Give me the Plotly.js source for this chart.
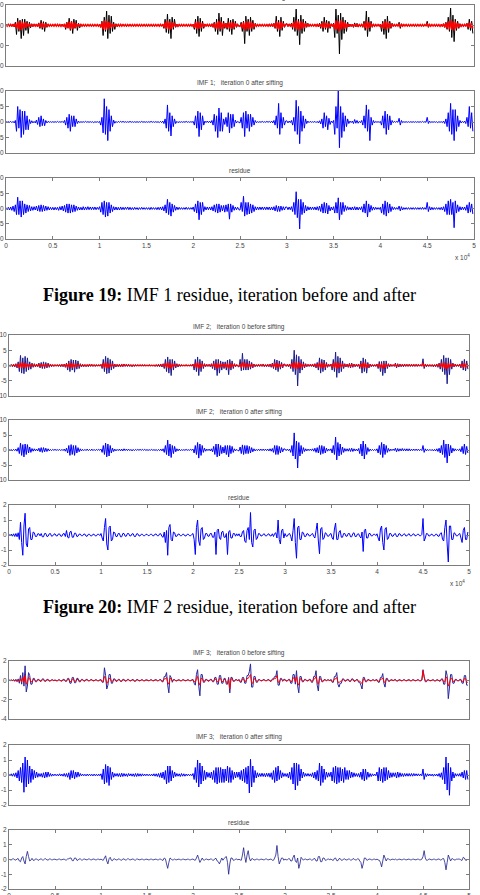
<!DOCTYPE html>
<html>
<head>
<meta charset="utf-8">
<script src="https://cdn.plot.ly/plotly-3.0.1.min.js"></script>
<style>
  html, body { margin: 0; padding: 0; background: #fff; }
  #chart { width: 480px; height: 895px; }
</style>
</head>
<body>
<div id="chart"></div>
<script>
// Sample spacing of every IMF trace (400 samples, 0 .. 49875)
const SAMPLE_STEP = 125;

// x tick positions and their labels (axis is scaled by 10^4)
const xTickVals = [0, 5000, 10000, 15000, 20000, 25000, 30000, 35000, 40000, 45000, 50000];
const xTickText = ['0', '0.5', '1', '1.5', '2', '2.5', '3', '3.5', '4', '4.5', '5'];

// y tick values per panel family
const yTicks19a = [10, 0, -10, -20];
const yTicks10 = [10, 5, 0, -5, -10];
const yTicks21a = [2, 0, -2, -4];
const yTicks2 = [2, 1, 0, -1, -2];

// ---- Figure 19: IMF 1 (one row = 0.5 x 10^4 samples) ----
const imf1Before = [
  .2,-.2,.3,-.3,.4,-.5,.5,-.8,1.5,-4.5,3.5,-3,2.5,-6.5,3,-5,3,-2.5,2,-4,1.5,-1.2,.8,-.6,.5,-.4,.6,-.8,1.2,-1.5,2.5,-2,1.8,-3,1.5,-1,.6,-.4,.3,-.2,
  .3,-.2,.4,-.3,.3,-.2,.4,-.3,.5,-.4,.6,-2,1.5,-1.2,3.5,-2.5,2,-4,3,-1.5,2.5,-2.5,1,-1.2,.5,-.4,.3,-.2,.2,-.3,.2,-.2,.3,-.2,.2,-.3,.2,-.2,.3,-.2,
  .5,-1,2,-5,4,-3,7,-6.5,5,-4,4.5,-3,1.5,-2,.8,-.6,.5,-.4,.5,-.3,.4,-.3,.4,-.5,.3,-.2,.4,-.3,.2,-.3,.3,-.2,.2,-.3,.3,-.2,.2,-.2,.3,-.2,
  .2,-.2,.3,-.2,.2,-.3,.2,-.2,.3,-.2,.2,-.3,.4,-.3,.6,-1.5,3,-3.5,5.5,-4,3,-6.5,4,-2,3,-1,.6,-.5,.4,-.3,.3,-.2,.2,-.3,.2,-.2,.3,-.2,.3,-.2,
  .5,-2,3,-4,4.5,-5.5,3.5,-3,2,-1.5,.6,-.4,.5,-.4,.5,-.6,.8,-1,1.5,-3,3,-4.5,6,-3,4,-5,2,-1.5,1,-2,3.5,-3,2.5,-4.5,3,-2,2,-1,.4,-.3,
  -.5,1.5,-3,2,-9,4.5,-3,3,-5,4,-3,2.5,-2,1,-.5,.3,-.2,.3,-.2,.3,-.2,.4,-.3,.3,-.4,.5,-.5,.8,-.6,1,-1.5,4.5,-3,2.5,-5.5,4,-2.5,2,-1,.5,
  .8,-.5,.6,-.4,1,-2,4,-3,8,-5,3,-9.5,5,-4,3,-3,2,-1,1,-.5,.4,-.3,.4,-.3,.5,-.4,.5,-.8,1,-1.5,2,-3,4,-2,2.5,-3.5,2,-1.5,.8,-.5,
  1,-6,8,-4,5,-14,6,-7,4,-4,2.5,-3,1.5,-.8,.6,-.5,.6,-1,1.2,-.8,1,-.8,.5,-.4,.5,-1,2,-2.5,7,-5.5,4,-3,2,-1,.6,-.4,.4,-.3,.3,-.2,
  .5,-3,2,-4.5,3,-6.5,4.5,-3.5,2,-1.5,1,-.5,.5,-.3,.4,-.3,1.5,-1.5,.8,-.5,.3,-.2,.3,-.2,.2,-.3,.2,-.2,.3,-.2,.2,-.2,.3,-.2,.2,-.2,.3,-.2,.2,-.2,
  2,-1,.5,-.4,.2,-.3,.2,-.3,.2,-.3,.2,-.4,.3,-.5,.8,-1,1.5,-2,4,-3,8.5,-6,5,-8,3,-2.5,2,-1.5,.8,-.6,.4,-.5,.5,-.4,1,-2,3,-2.5,2,-4
];
const imf1Mean = [
  .4,-.4,.5,-.4,.5,-.5,.6,-.6,.8,-1.5,1.8,-2,2,-2.2,1.8,-1.6,1.5,-1.2,1,-.8,.8,-.6,.5,-.5,.5,-.4,.6,-.7,.9,-1,1.2,-1.1,1,-1,.8,-.6,.5,-.4,.4,-.4,
  .4,-.4,.5,-.4,.5,-.4,.4,-.5,.5,-.6,.8,-1.2,1.2,-1.5,1.8,-2,2,-1.8,1.5,-1.2,1,-.8,.6,-.5,.5,-.4,.4,-.4,.4,-.4,.4,-.4,.4,-.4,.4,-.4,.4,-.4,.4,-.4,
  .5,-1,1.5,-2,2.5,-2.2,2,-2,1.8,-1.5,1,-.8,.6,-.6,.5,-.5,.5,-.4,.5,-.4,.4,-.4,.4,-.4,.4,-.4,.4,-.4,.4,-.4,.4,-.4,.4,-.4,.4,-.4,.4,-.4,.4,-.4,
  .4,-.4,.4,-.4,.4,-.4,.4,-.4,.4,-.4,.4,-.4,.5,-.5,.6,-1,1.5,-1.8,2.2,-2,1.8,-2,1.5,-1,1,-.6,.5,-.5,.4,-.4,.4,-.4,.4,-.4,.4,-.4,.4,-.4,.4,-.4,
  .5,-1.2,1.5,-1.8,2,-1.8,1.5,-1.2,1,-.8,.6,-.5,.5,-.4,.5,-.5,.6,-.8,1,-1.5,1.5,-2,2.2,-1.8,1.8,-1.8,1.2,-1,1,-1.2,1.5,-1.5,1.5,-1.8,1.5,-1.2,1,-.6,.5,-.4,
  -.5,.8,-1.5,1.5,-2.5,2,-1.8,1.8,-2,1.8,-1.5,1.2,-1,.6,-.5,.4,-.4,.4,-.4,.4,-.4,.4,-.4,.4,-.4,.5,-.5,.6,-.6,.8,-1,2,-1.8,1.5,-2.2,1.8,-1.2,1,-.6,.5,
  .6,-.5,.5,-.4,.6,-1,1.5,-1.5,2.5,-2,2,-2.5,2,-1.8,1.5,-1.2,1,-.6,.6,-.4,.4,-.4,.4,-.4,.4,-.4,.5,-.5,.6,-.8,1,-1.2,1.5,-1.2,1.2,-1.5,1,-.8,.6,-.5,
  .6,-2,2.5,-2,2,-3,2.5,-2,2,-1.8,1.5,-1.2,.8,-.6,.5,-.5,.5,-.6,.6,-.5,.5,-.5,.4,-.4,.5,-.6,1,-1.2,2.2,-2,1.5,-1.2,1,-.6,.5,-.4,.4,-.4,.4,-.4,
  .4,-1,1.2,-1.8,1.8,-2,1.8,-1.5,1.2,-1,.8,-.5,.4,-.4,.4,-.4,.8,-.8,.6,-.4,.4,-.4,.4,-.4,.4,-.4,.4,-.4,.4,-.4,.4,-.4,.4,-.4,.4,-.4,.4,-.4,.4,-.4,
  1,-.6,.5,-.4,.4,-.4,.4,-.4,.4,-.4,.4,-.5,.5,-.6,.8,-1,1.2,-1.5,2,-2,2.5,-2.2,2,-2.5,1.8,-1.5,1.2,-1,.6,-.5,.4,-.4,.5,-.5,.8,-1,1.2,-1.2,1.2,-1.5
];
const imf1After = [
  .1,-.1,.1,-.1,.2,-.2,.2,-.3,.5,-3,5,-2,4,-5,3.5,-4,3.5,-2.5,2,-2.5,.8,-.5,.4,-.3,.2,-.3,.6,-.8,1.5,-1.5,2,-1.2,1,-1.2,.5,-.3,.2,-.1,.1,-.1,
  .1,-.1,.1,-.1,.2,-.1,.1,-.1,.2,-.2,.5,-1,1.5,-2,2.5,-3,2,-1.5,2,-1.5,1,-.5,.3,-.2,.1,-.1,.1,-.1,.2,-.1,.1,-.1,.1,-.1,.1,-.2,.1,-.1,.1,-.1,
  .2,-1,1.5,-3.5,7.5,-4,5,-6,4,-3,2,-1.5,.6,-.4,.2,-.2,.2,-.1,.2,-.1,.2,-.1,.1,-.1,.1,-.1,.2,-.1,.1,-.1,.1,-.1,.1,-.1,.1,-.1,.2,-.1,.1,-.1,
  .1,-.1,.1,-.1,.2,-.1,.1,-.1,.1,-.1,.1,-.2,.2,-.2,.3,-.5,1,-2,5.5,-3,3,-4.5,2,-1.5,1,-.5,.2,-.2,.1,-.1,.1,-.1,.1,-.1,.2,-.1,.1,-.1,.1,-.1,
  .2,-1,2,-2,3.5,-4.7,3,-2.5,2,-1,.3,-.2,.3,-.2,.3,-.3,.5,-1,2.5,-3,2,-5,4.5,-3,3,-3,1,-.8,1.5,-1.5,3,-3.5,2.5,-2,2.5,-1.5,.6,-.3,.2,-.1,
  -.3,1.5,-2,3,-4.7,3.5,-2,2.5,-3,2.5,-1.5,1.5,-1,.5,-.2,.1,-.1,.1,-.1,.2,-.1,.1,-.1,.2,-.1,.2,-.2,.3,-.3,.5,-1,2,-2,6,-4,3,-2,1.5,-1,.3,
  .4,-.3,.3,-.2,.5,-1,1.5,-3,7,-4,5,-7,3.5,-3,2,-2,1,-.5,.3,-.2,.2,-.1,.1,-.1,.2,-.2,.2,-.3,.4,-.6,1,-2,3,-1.5,2,-2.5,1.2,-.8,.3,-.2,
  .5,-4,5,-2,10,-8.3,5,-5,3,-3,2,-1.5,1,-.5,.3,-.2,.3,-.5,.8,-.4,.5,-.4,.2,-.2,.5,-1,2,-2,5.5,-3,4,-6,1.5,-1,.5,-.3,.2,-.1,.1,-.1,
  .2,-1,2,-2,3.5,-4,2.5,-2.5,2,-1,.5,-.2,.2,-.1,.2,-.1,1.2,-1,.5,-.2,.1,-.1,.1,-.1,.1,-.1,.1,-.1,.1,-.1,.1,-.1,.1,-.1,.1,-.1,.2,-.1,.1,-.1,
  1.5,-.5,.3,-.2,.1,-.1,.1,-.1,.1,-.2,.1,-.1,.1,-.2,.3,-.5,1,-1.5,3,-3,6,-4,4,-6,4,-3,2,-1.5,.5,-.3,.2,-.2,.3,-.5,1.5,-1.5,5,-2,3,-3
];
const imf1Residue = [
  .3,-.4,.4,-.5,.5,-.6,.8,-1,1.2,-2,3.7,-2,2.5,-2.8,2.5,-2,1.5,-1.5,1.2,-1,1,-.8,.6,-.6,.6,-.5,.8,-.8,1,-1,1.2,-1,1,-.8,.8,-.6,.6,-.5,.4,-.4,
  .4,-.5,.4,-.4,.4,-.6,.6,-.5,.8,-.8,1,-1.2,1.5,-1.5,1.5,-1.5,1.2,-1.2,1.2,-1,.8,-.6,.5,-.5,.4,-.5,.6,-.5,.5,-.4,.6,-.4,.5,-.4,.5,-.4,.5,-.4,.4,-.3,
  .6,-1.2,2,-2,2.5,-2.8,2,-2.5,2,-1.5,1.2,-1,.6,-.5,.5,-.5,.4,-.5,.5,-.4,.4,-.4,.4,-.3,.5,-.4,.4,-.4,.3,-.4,.4,-.3,.3,-.4,.3,-.3,.4,-.3,.3,-.3,
  .3,-.3,.3,-.4,.4,-.3,.3,-.3,.3,-.4,.4,-.4,.5,-.5,.6,-.8,1.2,-1.5,3,-2,2,-2.5,1.5,-1.2,1,-.6,.5,-.4,.4,-.3,.3,-.3,.3,-.3,.4,-.3,.3,-.3,.3,-.3,
  .5,-1,1.5,-1.5,2.5,-3.7,2,-2,2,-1,.6,-.5,.5,-.4,.5,-.5,.6,-.8,1.2,-1.2,1.5,-1.5,1.5,-1.2,1,-.8,1,-1.2,1.2,-1,1.5,-3.5,1.5,-1.2,1,-.6,.5,-.4,.4,-.4,
  -.5,2,-1,4,-2.5,2,-2,2,-1.8,1.5,-1.5,1.2,-1,.6,-.5,.5,-.4,.5,-.4,.5,-.4,.5,-.4,.5,-.4,.5,-.5,.5,-.5,.6,-.8,1,-1,.8,-1,.8,-.6,.6,-.5,.5,
  .5,-.4,.5,-.4,.6,-1,2,-2,5.5,-3,3,-6.7,3,-2,2,-1.5,1,-.8,.6,-.5,.5,-.4,.5,-.4,.5,-.5,.6,-.6,.8,-1,1.5,-1.5,2,-1.5,1.8,-1.8,1,-.8,.5,-.5,
  .6,-1.5,2,-1.5,3.5,-3.7,2,-2,2,-1,1,-.6,.6,-.4,.4,-.5,.5,-.5,.6,-.5,.5,-.5,.4,-.4,.6,-1.2,1.5,-1.5,2.5,-2.8,1.5,-1.2,1,-.6,.5,-.4,.4,-.3,.3,-.3,
  .4,-1.5,1.5,-2,2.5,-2.5,2,-1.5,1.5,-1,.6,-.4,.4,-.3,.3,-.3,.8,-.8,.6,-.5,.3,-.3,.3,-.3,.3,-.3,.3,-.3,.3,-.3,.3,-.3,.3,-.3,.3,-.3,.4,-.3,.3,-.3,
  2,-1,.6,-.5,.4,-.4,.3,-.3,.3,-.3,.3,-.4,.4,-.5,.6,-1,1.5,-2,2.5,-2,3,-2,2,-6.3,2.5,-1.5,1.2,-1,.6,-.5,.5,-.4,.5,-.6,1.2,-1.5,2,-1.2,1.5,-1.8
];

// ---- Figure 20: IMF 2 ----
const imf2Before = [
  .2,-.3,.3,-.4,.4,-.5,.6,-.8,1.2,-2,3.3,-2.5,2.5,-2.7,3,-2,2.5,-1.5,1.2,-1.2,.8,-.6,.6,-.5,.5,-.4,.8,-.8,1,-1,1.2,-1,1,-.8,.8,-.6,.5,-.4,.3,-.3,
  .3,-.2,.3,-.3,.3,-.4,.4,-.4,.5,-.6,.8,-1.5,1.5,-2,2,-1.5,1.8,-2.2,1.8,-1.2,1.5,-1,.6,-.5,.4,-.4,.3,-.4,.3,-.4,.5,-.3,.4,-.3,.3,-.3,.3,-.2,.3,-.2,
  .4,-1,2,-2,3,-2.7,2.5,-2.5,2,-1.5,1.5,-1,.5,-.5,.4,-.4,.4,-.5,.5,-.4,.5,-.3,.4,-.3,.4,-.3,.3,-.4,.3,-.3,.3,-.2,.3,-.2,.3,-.2,.3,-.2,.3,-.2,
  .2,-.2,.3,-.2,.2,-.2,.2,-.3,.3,-.3,.4,-.4,.5,-.5,.6,-1,2,-2,2.8,-2.5,2,-3.3,2,-1.5,1.5,-.8,.6,-.5,.4,-.3,.3,-.2,.2,-.2,.3,-.2,.2,-.2,.3,-.2,
  .5,-1.5,2,-2,2.8,-3.3,2,-2,1.5,-1,.6,-.4,.4,-.3,.4,-.4,.6,-1,1.5,-1.5,2,-3.3,2,-2.5,1.5,-1.5,1.2,-1,1.2,-1.5,1.8,-3,2,-1.5,1.5,-1,.6,-.4,.3,-.3,
  -.5,2,-1.7,4,-1.5,2,-1.5,2,-1.5,1.5,-1.2,1,-.8,.5,-.4,.3,-.3,.4,-.3,.4,-.3,.5,-.4,.3,-.4,.4,-.4,.5,-.6,.8,-1,2,-1.5,1.8,-2,1.5,-1.2,1,-.8,.5,
  .4,-.3,.4,-.4,.5,-1,2,-2,5,-3,3.5,-6.7,3,-2.5,2,-1.5,1.2,-.8,.6,-.4,.4,-.3,.4,-.3,.5,-.5,.6,-.8,1,-1.5,2.5,-2.5,2,-2,1.8,-1.5,1,-.6,.4,-.3,
  .5,-1.5,2,-2,4.4,-3.9,3,-2.5,2.5,-2,1.5,-1,.6,-.5,.5,-.6,.7,-.8,.8,-.6,.5,-.4,.4,-.3,.5,-1,1.5,-2.5,2.5,-2,2,-2.5,1,-.8,.5,-.4,.3,-.3,.3,-.3,
  .5,-1,1.3,-2,1.3,-3.3,1.5,-2.5,1.5,-1,.6,-.5,.4,-.3,.3,-.3,.8,-.8,.6,-.5,.5,-.4,.4,-.4,.5,-.3,.4,-.3,.4,-.3,.4,-.3,.4,-.3,.4,-.3,.4,-.2,.3,-.2,
  2.2,-1,.5,-.4,.3,-.3,.3,-.3,.3,-.4,.3,-.4,.5,-.6,.8,-1.2,2,-2,3.3,-3,2.5,-6,2.5,-3,2,-1.2,.8,-.5,.5,-.3,.3,-.3,.5,-.8,1.5,-1.5,2,-1.8,1.5,-1.2
];
const imf2Mean = [
  .1,-.1,.15,-.15,.2,-.2,.2,-.3,.5,-.8,1,-.8,.9,-.9,.8,-.7,.6,-.5,.4,-.3,.3,-.2,.2,-.2,.2,-.2,.3,-.3,.4,-.4,.4,-.3,.3,-.3,.2,-.2,.2,-.1,.1,-.1,
  .1,-.1,.1,-.1,.15,-.1,.15,-.15,.2,-.3,.5,-.6,.8,-.7,.8,-.8,.7,-.6,.5,-.4,.3,-.2,.2,-.15,.1,-.1,.15,-.1,.15,-.1,.2,-.1,.15,-.1,.1,-.1,.1,-.1,.1,-.1,
  .15,-.5,.8,-.8,1,-.9,.8,-.7,.6,-.4,.3,-.2,.2,-.15,.15,-.15,.15,-.2,.2,-.15,.2,-.1,.15,-.1,.15,-.1,.1,-.15,.1,-.1,.1,-.1,.1,-.1,.1,-.1,.1,-.1,.1,-.1,
  .1,-.1,.1,-.1,.1,-.1,.1,-.1,.1,-.1,.1,-.1,.15,-.15,.2,-.4,.7,-.8,1,-.9,.8,-1,.6,-.5,.4,-.2,.2,-.15,.15,-.1,.1,-.1,.1,-.1,.1,-.1,.1,-.1,.1,-.1,
  .2,-.5,.7,-.8,1,-1,.8,-.7,.6,-.3,.2,-.15,.15,-.1,.15,-.15,.2,-.3,.6,-.6,.8,-1,.8,-.8,.6,-.5,.5,-.5,.6,-.7,.7,-1,.8,-.6,.6,-.4,.3,-.2,.15,-.1,
  -.2,.6,-.7,1.2,-.7,.8,-.6,.7,-.6,.6,-.5,.4,-.3,.2,-.15,.1,-.1,.15,-.1,.15,-.1,.2,-.15,.1,-.1,.15,-.15,.2,-.2,.3,-.5,.8,-.7,.8,-.8,.6,-.5,.4,-.3,.2,
  .15,-.1,.15,-.1,.2,-.4,.8,-.8,1.2,-1,1,-1.2,1,-.9,.8,-.6,.4,-.3,.2,-.15,.15,-.1,.15,-.1,.2,-.2,.3,-.3,.4,-.6,.9,-.9,.9,-.8,.8,-.6,.4,-.3,.15,-.1,
  .2,-.6,.8,-.8,1.2,-1.1,1,-.8,.8,-.6,.4,-.3,.2,-.2,.2,-.3,.3,-.3,.3,-.2,.2,-.15,.15,-.1,.2,-.4,.6,-.9,.9,-.8,.9,-.8,.4,-.3,.15,-.1,.1,-.1,.1,-.1,
  .2,-.5,.6,-.8,.6,-1,.6,-.8,.6,-.3,.2,-.15,.15,-.1,.1,-.1,.3,-.3,.2,-.15,.15,-.1,.15,-.1,.15,-.1,.15,-.1,.15,-.1,.15,-.1,.15,-.1,.15,-.1,.15,-.1,.1,-.1,
  .8,-.4,.2,-.1,.1,-.1,.1,-.1,.1,-.15,.1,-.15,.2,-.2,.3,-.5,.8,-.8,1,-1,.8,-1.2,.8,-.8,.6,-.4,.3,-.2,.2,-.1,.1,-.1,.2,-.3,.6,-.6,.8,-.7,.6,-.5
];
const imf2After = [
  .1,-.1,.1,-.2,.2,-.2,.3,-.4,.8,-1.2,2.3,-1.8,1.8,-2.3,2,-1.5,1.8,-1,1,-.8,.5,-.4,.4,-.3,.3,-.3,.6,-.6,.8,-.8,.8,-.6,.6,-.5,.4,-.3,.2,-.2,.2,-.1,
  .2,-.1,.1,-.1,.2,-.2,.2,-.2,.3,-.4,.6,-1,1.5,-1.8,1.8,-1.5,1.5,-1.8,1.5,-1,.8,-.6,.4,-.3,.2,-.2,.2,-.2,.3,-.2,.2,-.2,.3,-.2,.2,-.2,.2,-.1,.2,-.1,
  .3,-.8,1.5,-1.5,2.3,-2.3,2,-2,1.5,-1,.6,-.5,.3,-.3,.2,-.2,.3,-.3,.3,-.3,.4,-.2,.3,-.2,.3,-.2,.2,-.3,.2,-.2,.2,-.1,.2,-.1,.2,-.1,.2,-.1,.2,-.1,
  .1,-.1,.1,-.1,.2,-.1,.1,-.1,.1,-.2,.2,-.2,.3,-.3,.4,-.8,1.5,-1.5,3.3,-2,2,-2.5,1.5,-1.2,1.2,-.6,.4,-.3,.3,-.2,.1,-.1,.1,-.1,.2,-.1,.1,-.1,.2,-.1,
  .3,-1,1.5,-1.5,2.5,-2.7,2,-1.8,1.5,-.8,.6,-.4,.3,-.2,.3,-.3,.4,-.6,1.2,-1.5,2,-2.3,2,-2,1.5,-1.2,1,-1,1.5,-1.5,1.5,-2.3,1.5,-1.2,1.2,-.8,.4,-.3,.2,-.2,
  -.3,1,-1.2,1.7,-1.5,1.5,-1.2,1.5,-1.2,1.2,-1,.8,-.6,.4,-.3,.2,-.2,.3,-.2,.3,-.2,.3,-.2,.3,-.2,.3,-.3,.4,-.4,.5,-.8,1.5,-1.5,1.5,-1.5,1.2,-1,.8,-.6,.4,
  .3,-.2,.3,-.2,.3,-.8,1.5,-2,5.7,-3,3,-6,2.5,-2,1.5,-1.2,.8,-.5,.4,-.3,.3,-.2,.3,-.2,.4,-.4,.6,-.8,.8,-1,1.5,-1.5,1.5,-1.2,1.2,-1,.6,-.4,.3,-.2,
  .4,-1,1.5,-1.5,4.3,-3.3,2.5,-2,2,-1.5,1,-.8,.5,-.4,.4,-.4,.5,-.5,.6,-.5,.4,-.3,.3,-.3,.5,-1.2,2,-2,3,-3,2,-1.5,.8,-.5,.3,-.2,.2,-.2,.2,-.2,
  .4,-1,1.5,-1.5,2.5,-2.5,2,-1.5,1.5,-.8,.5,-.4,.3,-.2,.3,-.2,.6,-.6,.5,-.4,.4,-.3,.5,-.3,.4,-.3,.4,-.3,.4,-.3,.3,-.2,.3,-.2,.3,-.2,.3,-.2,.2,-.2,
  1.5,-.8,.4,-.3,.2,-.2,.2,-.2,.2,-.3,.2,-.3,.4,-.5,.6,-1,1.5,-1.5,3.3,-2.5,2,-4.3,2,-2,1.5,-1,.6,-.4,.4,-.2,.2,-.2,.4,-.6,1.2,-1.2,2,-1.5,1.2,-1
];
const imf2Residue = [
  .05,-.05,.06,-.08,.08,-.1,.1,-.12,.15,-.3,.85,-.5,-1.35,.6,1.45,-.6,-.8,.4,.5,-.3,-.3,.2,.15,-.1,-.1,.08,.08,-.06,.1,-.12,-.12,.1,.1,-.1,-.08,.08,.1,-.08,-.06,.05,
  .08,-.06,-.06,.07,.07,-.08,-.08,.08,.1,-.1,.3,-.15,-.2,.2,.25,-.15,-.15,.12,.12,-.1,-.08,.06,.06,-.05,-.05,.06,.06,-.08,-.08,.05,.05,-.06,-.06,.05,.05,-.06,-.06,.05,.05,-.04,
  .1,-.2,-.4,.5,1.1,-.6,-1,.5,.6,-.4,-.3,.2,.15,-.1,-.1,.1,.1,-.12,-.12,.1,.1,-.08,-.08,.1,.1,-.06,-.06,.08,.08,-.1,-.1,.08,.08,-.06,-.06,.05,.05,-.05,-.05,.04,
  .05,-.04,-.04,.05,.05,-.05,-.05,.06,.06,-.05,-.05,.08,.08,-.1,-.15,.2,-.5,.3,-1.35,.5,.7,-.3,-.4,.2,.15,-.1,-.08,.06,.06,-.05,-.05,.05,.05,-.06,-.06,.05,.05,-.05,-.05,.04,
  .1,-.3,-1.3,.5,1,-.4,-.7,.4,.5,-.3,-.2,.1,.1,-.08,-.08,.1,.1,-.15,-.15,.2,-1.3,.3,.4,-.2,-.3,.2,.25,-.15,-.15,.1,-1.3,.2,.3,-.2,-.2,.1,.1,-.08,.08,-.05,
  .08,-.1,-.1,.2,.3,-.4,-.5,.3,.5,-.3,1.5,-.5,-.8,.3,.4,-.3,-.2,.1,.08,-.06,-.06,.05,.08,-.06,-.06,.05,.08,-.06,-.06,.08,-.1,.1,.15,-.2,1,-.3,-.6,.3,.4,-.2,
  .1,-.08,-.08,.06,.1,-.1,-.4,.3,1.1,-.5,-1.55,.5,.6,-.3,-.3,.2,.15,-.1,-.1,.08,.08,-.06,-.06,.05,.1,-.1,-.2,.3,.8,-.4,-1.25,.4,.5,-.3,-.2,.15,.1,-.08,-.08,.05,
  .1,-.2,-.3,.4,.8,-.3,-.3,.2,.3,-.15,-.15,.1,.1,-.08,-.08,.1,.1,-.12,-.12,.1,.15,-.1,-.1,.06,.08,-.1,-.2,.2,-1.1,.3,.4,-.2,-.2,.1,.1,-.06,-.06,.05,.05,-.04,
  .08,-.2,-.4,.4,.6,-.5,-1,.4,.5,-.3,-.2,.1,.1,-.08,-.08,.06,.1,-.1,-.1,.08,.08,-.06,-.06,.05,.08,-.06,-.06,.05,.08,-.06,-.06,.05,.08,-.05,-.05,.04,.06,-.05,-.05,.04,
  1.1,-.4,-.2,.1,.08,-.06,-.06,.05,.05,-.06,-.06,.05,.05,-.08,-.08,.1,.15,-.3,-.4,.5,1,-.6,-1.8,.6,.6,-.3,-.3,.15,.1,-.06,-.06,.05,.1,-.2,-.5,.3,.5,-.3,-.3,.2
];

// ---- Figure 21: IMF 3 ----
const imf3Before = [
  .05,-.05,.06,-.06,.08,-.1,.1,-.15,.15,-.3,.5,-.4,.8,-.6,1.5,-1.2,-.6,.8,.5,-.4,-.4,.2,.2,-.15,-.15,.1,.1,-.1,-.1,.15,.15,-.1,-.1,.1,.1,-.08,-.08,.06,.06,-.05,
  .05,-.05,-.06,.05,.05,-.08,-.08,.1,.1,-.1,-.1,.2,.2,-.3,-.3,.3,.3,-.25,-.25,.2,.2,-.15,-.15,.1,.1,-.08,-.08,.1,.1,-.06,-.06,.08,.08,-.06,-.06,.05,.05,-.05,-.05,.04,
  .08,-.2,-.2,1.3,.5,-.9,-.5,.6,.6,-.3,-.3,.15,.15,-.1,-.1,.1,.1,-.12,-.12,.1,.1,-.08,-.08,.1,.1,-.06,-.06,.08,.08,-.1,-.1,.08,.08,-.06,-.06,.06,.06,-.05,-.05,.04,
  .05,-.04,-.04,.05,.05,-.05,-.05,.06,.06,-.05,-.05,.08,.08,-.15,-.15,.4,.4,.8,-.5,-1.3,.5,.3,-.2,.08,.08,-.06,-.06,.05,.05,-.05,-.05,.06,.06,-.05,-.05,.05,.05,-.04,-.04,.04,
  .1,-.3,-.5,.6,1.1,-.6,-1.6,.6,.6,-.2,-.2,.1,.1,-.08,-.08,.1,.1,-.15,-.15,.3,.3,-.4,-.4,.5,.5,-.3,-.3,.2,.2,-.4,-.4,.3,-1.3,.3,.3,-.1,-.1,.08,.08,-.05,
  .1,-.2,-.2,.3,.3,-.3,-.3,.5,.5,.9,1.7,-.7,-.7,.4,.4,-.2,-.2,.08,.08,-.06,-.06,.08,.08,-.06,-.06,.08,.08,-.1,-.1,.15,.15,.4,.4,1,-.5,-.5,.2,.2,-.1,.1,
  .1,-.08,-.08,.1,.1,-.3,-.3,.6,.6,-.4,1,-.6,-1.3,.4,.4,-.15,-.15,.1,.1,-.06,-.06,.1,.1,-.2,-.2,.4,.4,1,-.5,-1.1,.4,.4,-.15,-.15,.08,.08,-.06,.05,.05,-.04,
  .1,-.2,-.2,.4,.4,.8,-.4,-.7,-.3,-.3,.15,.15,-.08,-.08,.1,.1,-.12,-.12,.15,.15,-.1,-.1,.08,.08,-.2,-.2,-.5,-.9,.3,.3,-.15,-.15,.08,.08,-.06,-.06,.05,.05,-.04,.04,
  .08,-.2,-.2,.3,.3,.7,-.3,-.7,.2,.2,-.1,-.1,.06,.06,-.05,.05,.1,-.08,-.08,.06,.06,-.05,-.05,.06,.06,-.05,-.05,.06,.06,-.05,-.05,.06,.06,-.05,-.05,.06,.06,-.05,-.05,.04,
  1.1,.4,-.15,-.15,.06,.06,-.05,-.05,.05,.05,-.06,-.06,.05,.05,-.08,-.08,.15,.15,-.4,-.4,1,.5,-1.9,-.8,.6,.6,-.3,-.3,.1,.1,-.06,-.06,.1,.1,-.3,-.3,.5,.5,-.5,-.5
];
const imf3Mean = [
  .02,-.02,.03,-.03,.04,-.04,.05,-.06,.06,-.1,.15,-.15,.3,-.2,.5,-.4,-.2,.3,.2,-.15,-.15,.08,.08,-.05,-.05,.04,.04,-.04,-.04,.05,.05,-.04,-.04,.04,.04,-.03,-.03,.02,.02,-.02,
  .02,-.02,-.02,.02,.03,-.03,-.03,.03,.04,-.04,-.05,.08,.1,-.12,-.15,.12,.12,-.1,-.1,.08,.08,-.05,-.05,.04,.04,-.03,-.03,.04,.04,-.03,-.03,.03,.03,-.02,-.02,.02,.02,-.02,-.02,.02,
  .03,-.06,-.1,.4,.2,-.3,-.2,.2,.2,-.1,-.1,.05,.05,-.04,-.04,.04,.04,-.05,-.05,.04,.04,-.03,-.03,.04,.04,-.03,-.03,.03,.03,-.04,-.04,.03,.03,-.02,-.02,.02,.02,-.02,-.02,.02,
  .02,-.02,-.02,.02,.02,-.02,-.02,.03,.03,-.02,-.02,.04,.04,-.06,-.06,.15,.15,.3,-.2,-.4,.2,.2,-.08,.04,.04,-.03,-.03,.02,.02,-.02,-.02,.03,.03,-.02,-.02,.02,.02,-.02,-.02,.02,
  .04,-.1,-.2,.2,.4,-.2,-.5,.2,.2,-.08,-.08,.04,.04,-.03,-.03,.04,.04,-.06,-.06,.12,.12,-.15,-.15,.2,.2,-.12,-.12,.08,.08,-.2,-.3,.1,-.9,.15,.15,-.05,-.05,.03,.03,-.02,
  .04,-.08,-.08,.12,.12,-.1,-.1,.2,.2,.4,.6,-.3,-.3,.15,.15,-.08,-.08,.03,.03,-.02,-.02,.03,.03,-.02,-.02,.03,.03,-.04,-.04,.06,.06,.2,.2,.5,-.2,-.2,.08,.08,-.04,.04,
  .04,-.03,-.03,.04,.04,-.12,-.12,.25,.25,-.15,.4,-.3,-.5,.15,.15,-.06,-.06,.04,.04,-.03,-.03,.04,.04,-.08,-.08,.15,.15,.4,-.2,-.4,.15,.15,-.06,-.06,.03,.03,-.02,.02,.02,-.02,
  .04,-.08,-.08,.15,.15,.3,-.15,-.25,-.1,-.1,.06,.06,-.03,-.03,.04,.04,-.05,-.05,.06,.06,-.04,-.04,.03,.03,-.08,-.08,-.2,-.35,.12,.12,-.06,-.06,.03,.03,-.02,-.02,.02,.02,-.02,.02,
  .03,-.08,-.08,.12,.12,.25,-.1,-.25,.08,.08,-.04,-.04,.02,.02,-.02,.02,.04,-.03,-.03,.02,.02,-.02,-.02,.02,.02,-.02,-.02,.02,.02,-.02,-.02,.02,.02,-.02,-.02,.02,.02,-.02,-.02,.02,
  1,.3,-.06,-.06,.02,.02,-.02,-.02,.02,.02,-.02,-.02,.02,.02,-.03,-.03,.06,.06,-.15,-.15,.35,.2,-.6,-.3,.2,.2,-.1,-.1,.04,.04,-.02,-.02,.04,.04,-.1,-.1,.2,.2,-.2,-.2
];
const imf3After = [
  .05,-.05,.08,-.08,.1,-.1,.15,-.2,.3,-.4,.5,-.5,.8,-1.15,1.2,-.8,1,-.6,.6,-.5,.4,-.3,.3,-.2,.2,-.15,.1,-.1,.1,-.15,.15,-.2,.2,-.15,.2,-.1,.1,-.08,.06,-.05,
  .06,-.05,.05,-.06,.08,-.06,.06,-.08,.1,-.1,.1,-.15,.15,-.3,.3,-.2,.3,-.25,.2,-.15,.2,-.1,.1,-.06,.06,-.05,.05,-.06,.06,-.05,.06,-.05,.05,-.06,.06,-.05,.05,-.06,.06,-.05,
  .08,-.3,.4,-.6,.7,-.5,.6,-.7,.5,-.3,.2,-.15,.1,-.08,.1,-.1,.1,-.12,.12,-.1,.1,-.08,.08,-.1,.1,-.06,.08,-.08,.08,-.1,.1,-.1,.1,-.08,.08,-.08,.08,-.06,.06,-.05,
  .06,-.05,.05,-.06,.06,-.06,.08,-.08,.08,-.1,.1,-.15,.15,-.2,.2,-.3,.3,-.6,.6,-.5,.6,-.4,.3,-.2,.2,-.1,.1,-.08,.08,-.1,.1,-.08,.08,-.08,.06,-.05,.06,-.05,.05,-.05,
  .1,-.3,.5,-.5,1,-.8,.8,-.6,.6,-.4,.3,-.3,.2,-.15,.15,-.2,.2,-.3,.3,-.5,.5,-.6,.5,-.5,.5,-.5,.4,-.5,.4,-.4,.6,-.5,.5,-.5,.3,-.3,.2,-.2,.2,-.15,
  .2,-.3,.3,-.4,.4,-.5,.5,-.6,.6,-1.2,1.05,-.8,.6,-.5,.3,-.2,.15,-.12,.1,-.1,.12,-.1,.1,-.12,.12,-.1,.12,-.15,.15,-.3,.3,-.5,.5,-.4,.6,-.3,.3,-.2,.15,-.1,
  .1,-.1,.1,-.2,.2,-.3,.5,-.6,.8,-1,.8,-.7,.7,-.4,.4,-.2,.2,-.1,.1,-.08,.1,-.08,.08,-.1,.15,-.2,.2,-.3,.3,-.4,.8,-.7,.6,-.5,.4,-.3,.2,-.15,.15,-.1,
  .2,-.4,.5,-.5,.6,-.6,.5,-.5,.5,-.4,.4,-.5,.5,-.3,.3,-.3,.3,-.2,.2,-.15,.15,-.1,.1,-.1,.1,-.15,.2,-.3,.4,-.4,.4,-.3,.2,-.15,.1,-.1,.08,-.06,.06,-.05,
  .2,-.4,.5,-.4,.4,-.5,.5,-.4,.5,-.3,.3,-.2,.15,-.15,.15,-.1,.15,-.2,.2,-.15,.15,-.1,.1,-.1,.1,-.08,.1,-.08,.1,-.08,.1,-.08,.1,-.06,.08,-.06,.08,-.06,.06,-.05,
  .4,-.3,.1,-.1,.08,-.06,.06,-.06,.06,-.08,.06,-.06,.06,-.08,.1,-.15,.15,-.3,.5,-.6,1.2,-1,.8,-1.35,.5,-.4,.2,-.2,.1,-.08,.08,-.08,.1,-.1,.2,-.2,.3,-.3,.3,-.3
];
const imf3Residue = [
  .02,-.02,-.03,.03,.05,-.03,-.04,.04,.06,-.1,-.15,.1,.2,-.1,-.3,.2,.55,.2,-.1,-.05,.08,-.05,-.06,.04,.04,-.04,-.05,.03,.04,-.03,-.03,.04,.05,-.03,-.04,.03,.03,-.02,-.02,.02,
  .02,-.02,-.02,.02,.03,-.02,-.02,.02,.02,-.03,-.03,.04,.05,.1,.1,-.08,-.08,.1,.1,-.05,-.05,.04,.04,-.03,-.03,.03,.03,-.02,-.02,.03,.03,-.02,-.02,.03,.03,-.02,-.02,.02,.02,-.02,
  .03,-.03,-.05,.1,.25,-.1,-.3,.05,.15,-.05,-.08,.04,.04,-.03,-.03,.03,.04,-.04,-.05,.04,.04,-.03,-.03,.04,.04,-.02,-.02,.03,.03,-.03,-.04,.03,.03,-.02,-.02,.02,.02,-.02,-.02,.02,
  .02,-.02,-.02,.02,.02,-.02,-.02,.02,.02,-.02,-.02,.03,.03,-.05,-.05,.1,.05,-.3,-.6,-.2,.1,.05,-.04,-.02,.03,-.02,-.02,.02,.02,-.02,-.02,.02,.02,-.02,-.02,.02,.02,-.02,-.02,.02,
  .03,-.03,-.05,.1,.3,.05,-.2,-.05,.1,-.03,-.05,.03,.03,-.02,-.02,.03,.03,-.04,-.05,.05,.08,-.1,-.15,-.3,-.1,.1,-.05,.05,.15,.2,-.2,-1,-.3,.1,.1,-.05,-.05,.03,.03,-.02,
  .02,-.03,-.05,.3,.8,.2,-.2,.3,.6,.1,-.1,.05,.05,-.03,-.03,.02,.02,-.02,-.02,.02,.02,-.02,-.02,.03,.03,-.02,-.02,.02,.02,-.05,-.05,.1,.3,.95,.2,-.3,-.1,.1,.1,-.05,
  .03,-.02,-.02,.05,.05,-.1,-.1,.15,.3,-.1,-.2,.1,-.6,-.3,.15,.05,-.05,.03,.03,-.02,-.02,.03,.03,-.04,-.04,.06,.06,-.1,-.1,.2,.2,-.15,-.15,.1,.1,-.05,-.05,.03,.03,-.02,
  .04,-.04,-.06,.08,.1,-.08,-.08,.06,.06,-.05,-.05,.04,.04,-.03,-.03,.03,.03,-.04,-.04,.05,.05,-.03,-.03,.04,.04,-.1,-.2,-.6,-.3,.1,.1,-.04,-.04,.03,.03,-.02,-.02,.02,.02,-.02,
  .03,-.03,-.05,-.2,-.5,-.1,.3,.1,-.1,.05,.05,-.03,-.03,.02,.02,-.02,.03,-.02,-.02,.02,.02,-.02,-.02,.02,.02,-.02,-.02,.02,.02,-.02,-.02,.02,.02,-.02,-.02,.02,.02,-.02,-.02,.02,
  .2,.6,.1,-.05,-.05,.03,.03,-.02,-.02,.02,.02,-.02,-.02,.03,.03,-.03,-.03,.06,.06,-.2,-.7,-.2,.3,.1,-.1,.05,.05,-.03,-.03,.02,.02,.03,.03,-.05,-.05,.15,.1,-.05,-.05,.03
];

// Panel texts and captions
const panelTitles = [
  'IMF 1;\u00a0\u00a0\u00a0iteration 0 before sifting',
  'IMF 1;\u00a0\u00a0\u00a0iteration 0 after sifting',
  'residue',
  'IMF 2;\u00a0\u00a0\u00a0iteration 0 before sifting',
  'IMF 2;\u00a0\u00a0\u00a0iteration 0 after sifting',
  'residue',
  'IMF 3;\u00a0\u00a0\u00a0iteration 0 before sifting',
  'IMF 3;\u00a0\u00a0\u00a0iteration 0 after sifting',
  'residue'
];
const captions = [
  ['Figure 19:', 'IMF 1 residue, iteration before and after'],
  ['Figure 20:', 'IMF 2 residue, iteration before and after']
];

// ------------------------------------------------------------------
// Page geometry (pixels) for the stacked MATLAB-style subplots
const W = 480, H = 895;
const BLACK = '#000000', RED = '#ff0000', BLUE = '#0000ff', NAVY = '#1c1c8c', DARKBLUE = '#2626a0';

const panels = [
  { series: [[imf1Before, BLACK, 1], [imf1Mean, RED, 1.4]], x: [6, 474], y: [5, 66], range: [-20, 10], ticks: yTicks19a, xlab: false },
  { series: [[imf1After, BLUE, 1]], x: [6, 474], y: [91, 153], range: [-10, 10], ticks: yTicks10, xlab: false },
  { series: [[imf1Residue, BLUE, 1]], x: [6, 474], y: [178, 239], range: [-10, 10], ticks: yTicks10, xlab: true },
  { series: [[imf2Before, NAVY, 1], [imf2Mean, RED, 1.2]], x: [9, 469], y: [335, 396], range: [-10, 10], ticks: yTicks10, xlab: false },
  { series: [[imf2After, BLUE, 1]], x: [9, 469], y: [420, 480], range: [-10, 10], ticks: yTicks10, xlab: false },
  { series: [[imf2Residue, BLUE, 1]], x: [9, 469], y: [505, 565], range: [-2, 2], ticks: yTicks2, xlab: true },
  { series: [[imf3Before, DARKBLUE, 1], [imf3Mean, RED, 1]], x: [9, 469], y: [661, 719], range: [-4, 2], ticks: yTicks21a, xlab: false },
  { series: [[imf3After, BLUE, 1]], x: [9, 469], y: [745, 805], range: [-2, 2], ticks: yTicks2, xlab: false },
  { series: [[imf3Residue, NAVY, 0.8]], x: [9, 469], y: [830, 889], range: [-2, 2], ticks: yTicks2, xlab: true }
];

const AXIS_GREY = '#7c7c7c';
const tickFont = { family: 'Liberation Sans, Arial, sans-serif', size: 6.5, color: '#444' };
const label = v => (v < 0 ? '-' + Math.abs(v) : String(v));

const traces = [];
const layout = {
  width: W, height: H,
  margin: { l: 0, r: 0, t: 0, b: 0 },
  paper_bgcolor: '#ffffff', plot_bgcolor: '#ffffff',
  showlegend: false,
  font: { family: 'Liberation Sans, Arial, sans-serif', size: 7, color: '#333' },
  annotations: []
};

panels.forEach((p, k) => {
  const n = k === 0 ? '' : String(k + 1);
  const xa = 'x' + n, ya = 'y' + n;
  p.series.forEach(([vals, color, width]) => {
    traces.push({
      type: 'scatter', mode: 'lines',
      y: vals, x0: 0, dx: SAMPLE_STEP,
      xaxis: xa, yaxis: ya,
      line: { color: color, width: width, simplify: false },
      hoverinfo: 'skip'
    });
  });
  const xaxis = {
    domain: [p.x[0] / W, p.x[1] / W], anchor: ya,
    range: [0, 50000], fixedrange: true,
    showline: true, linecolor: AXIS_GREY, linewidth: 1,
    showgrid: false, zeroline: false, tickfont: tickFont
  };
  if (p.xlab) {
    Object.assign(xaxis, {
      tickmode: 'array', tickvals: xTickVals, ticktext: xTickText,
      ticks: 'inside', ticklen: 3, tickcolor: AXIS_GREY, mirror: 'ticks'
    });
  } else {
    Object.assign(xaxis, { showticklabels: false, ticks: '', mirror: true });
  }
  layout['xaxis' + n] = xaxis;
  layout['yaxis' + n] = {
    domain: [1 - p.y[1] / H, 1 - p.y[0] / H], anchor: xa,
    range: p.range, fixedrange: true,
    tickmode: 'array', tickvals: p.ticks, ticktext: p.ticks.map(label),
    ticks: 'inside', ticklen: 3, tickcolor: AXIS_GREY,
    showline: true, mirror: 'ticks', linecolor: AXIS_GREY, linewidth: 1,
    showgrid: false, zeroline: false, tickfont: tickFont
  };
  // small panel title just above the box
  layout.annotations.push({
    xref: 'paper', yref: 'paper',
    x: (p.x[0] + p.x[1]) / 2 / W, y: 1 - (p.y[0] - 2) / H,
    xanchor: 'center', yanchor: 'bottom', showarrow: false,
    text: panelTitles[k], font: { size: 6.5, color: '#444' }
  });
  // exponent note under the residue axes
  if (p.xlab) {
    layout.annotations.push({
      xref: 'paper', yref: 'paper',
      x: (p.x[1] - 2) / W, y: 1 - (p.y[1] + 12) / H,
      xanchor: 'right', yanchor: 'top', showarrow: false,
      text: 'x 10<sup>4</sup>', font: { size: 6.5, color: '#444' }
    });
  }
});

// Figure captions between the subplot groups
[295, 607].forEach((cy, i) => {
  layout.annotations.push({
    xref: 'paper', yref: 'paper',
    x: 229 / W, y: 1 - cy / H, xanchor: 'center', yanchor: 'middle', showarrow: false,
    text: '<b>' + captions[i][0] + '</b> ' + captions[i][1],
    font: { family: 'Liberation Serif, Times New Roman, serif', size: 18, color: '#000' }
  });
});

Plotly.newPlot('chart', traces, layout, { staticPlot: true, displayModeBar: false });
</script>
</body>
</html>
